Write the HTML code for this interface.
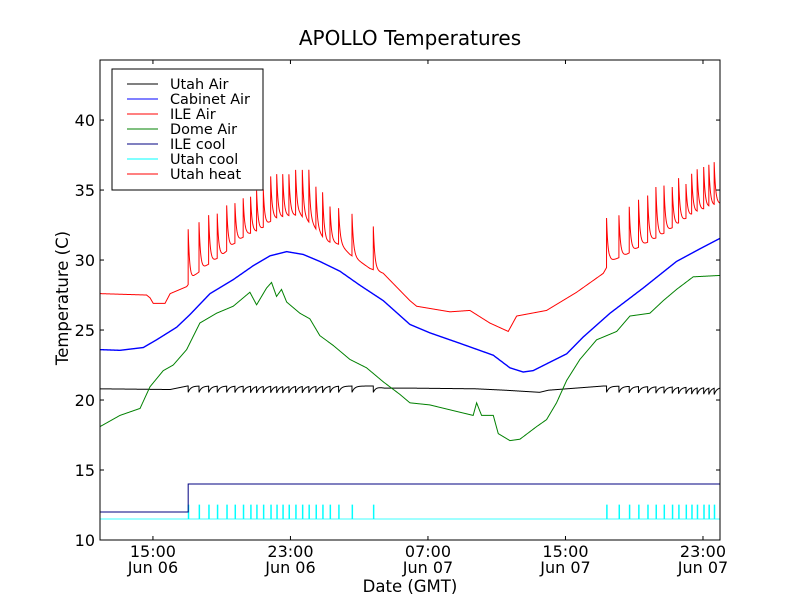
<!DOCTYPE html>
<html><head><meta charset="utf-8"><style>
body{margin:0;background:#fff}
svg text{font-family:"DejaVu Sans","Liberation Sans",sans-serif;fill:#000}
</style></head><body>
<svg id="chart" width="800" height="600" viewBox="0 0 800 600">
<rect width="800" height="600" fill="#fff"/>
<text x="410" y="45" font-size="20" text-anchor="middle">APOLLO Temperatures</text>
<g id="plot"></g>
<g id="axes"></g>
<text x="410" y="592" font-size="16.5" text-anchor="middle">Date (GMT)</text>
<text transform="translate(68,298) rotate(-90)" font-size="16.5" text-anchor="middle">Temperature (C)</text>
<g>
<rect x="112" y="69" width="151" height="121" fill="#fff" stroke="#000" stroke-width="1"/>
<g font-size="14.4">
<line x1="127" y1="84" x2="158" y2="84" stroke="#000"/><text x="170" y="89">Utah Air</text>
<line x1="127" y1="99" x2="158" y2="99" stroke="#00f"/><text x="170" y="104">Cabinet Air</text>
<line x1="127" y1="114" x2="158" y2="114" stroke="#f00"/><text x="170" y="119">ILE Air</text>
<line x1="127" y1="129" x2="158" y2="129" stroke="#008000"/><text x="170" y="134">Dome Air</text>
<line x1="127" y1="144" x2="158" y2="144" stroke="#000080"/><text x="170" y="149">ILE cool</text>
<line x1="127" y1="159" x2="158" y2="159" stroke="#0ff"/><text x="170" y="164">Utah cool</text>
<line x1="127" y1="174" x2="158" y2="174" stroke="#f00"/><text x="170" y="179">Utah heat</text>
</g></g>
</svg>
<script>
// hours since 00:00 Jun 06
const xTickHours = [15, 23, 31, 39, 47];
const xTickTimes = ["15:00", "23:00", "07:00", "15:00", "23:00"];
const xTickDays = ["Jun 06", "Jun 06", "Jun 07", "Jun 07", "Jun 07"];
const yTicks = [10, 15, 20, 25, 30, 35, 40];

const cabinetT = [11.92,13.08,14.44,15.21,16.38,17.15,18.32,19.67,20.84,21.81,22.78,23.74,24.71,25.88,27.04,28.4,29.95,31.11,32.86,34.8,35.77,36.54,37.12,38.09,39.07,40.03,41.59,43.52,45.46,46.82,47.99];
const cabinetV = [23.6,23.55,23.75,24.3,25.2,26.1,27.6,28.6,29.6,30.3,30.6,30.4,29.9,29.2,28.2,27.1,25.4,24.8,24.05,23.2,22.3,22.0,22.1,22.7,23.3,24.5,26.2,28.0,29.9,30.8,31.55];

const domeT = [11.92,13.08,14.25,14.83,15.6,16.18,16.96,17.73,18.7,19.67,20.64,21.03,21.61,21.9,22.19,22.48,22.78,23.55,24.13,24.71,25.49,26.46,27.43,28.4,29.37,29.95,31.11,32.28,33.63,33.83,34.12,34.8,35.09,35.77,36.35,37.32,37.9,38.48,39.07,39.84,40.81,41.98,42.75,43.91,44.69,45.46,46.43,47.99];
const domeV = [18.1,18.9,19.4,20.95,22.1,22.5,23.6,25.5,26.2,26.7,27.7,26.8,28.0,28.4,27.4,27.9,27.0,26.2,25.8,24.6,23.9,22.9,22.3,21.3,20.4,19.8,19.65,19.3,18.9,19.8,18.9,18.9,17.6,17.1,17.2,18.1,18.6,19.8,21.4,22.9,24.3,24.9,26.0,26.2,27.1,27.9,28.8,28.9];

const ileBaseT = [11.92,14.63,14.83,15.02,15.7,16.0,16.96,17.44,18.12,19.09,19.67,20.45,21.22,22.0,22.78,23.55,24.33,25.1,25.88,26.46,27.62,28.4,29.95,30.34,32.28,33.44,34.6,35.67,36.16,37.9,39.65,41.2,41.59,42.56,43.52,44.49,45.46,46.43,47.4,47.99];
const ileBaseV = [27.6,27.5,27.3,26.9,26.9,27.6,28.1,28.9,29.6,30.4,31.1,31.8,32.1,32.9,33.1,33.2,32.4,31.3,31.1,30.4,29.4,29.05,27.1,26.7,26.3,26.4,25.5,24.9,26.0,26.4,27.7,29.05,29.9,30.4,31.1,31.7,32.5,33.3,33.8,34.0];

const heatT = [17.05,17.68,18.24,18.74,19.29,19.77,20.25,20.68,21.03,21.42,21.85,22.2,22.55,22.91,23.3,23.69,24.07,24.48,24.87,25.3,25.8,26.58,27.82,41.39,42.11,42.71,43.25,43.78,44.26,44.73,45.21,45.58,46.01,46.34,46.66,47.04,47.34,47.65];
const heatPeak = [32.2,32.7,33.2,33.3,33.9,34.05,34.4,34.5,34.9,35.0,35.95,36.07,36.07,36.07,36.4,36.4,36.4,35.2,34.8,33.8,33.7,33.3,32.4,33.0,33.2,33.8,34.3,34.6,35.2,35.3,35.2,35.8,35.4,36.1,36.4,36.6,36.7,36.9];

const utahAirT = [11.92,16.0,17.0,27.8,28.5,30.0,33.8,35.5,37.5,38.0,41.2,47.99];
const utahAirV = [20.8,20.75,21.0,21.0,20.85,20.85,20.8,20.7,20.55,20.7,21.0,20.9];
const utahAirDip = [0.45];

const ileCoolT = [11.92,17.05,47.99];
const ileCoolV = [12,14,14];
const utahCoolBase = [11.5];
const utahCoolOn = [12.5];

const X0=100,X1=720,Y0=540,Y1=60,TMIN=11.92,TMAX=47.99,VMIN=10,VMAX=44.29;
const xs=t=>X0+(t-TMIN)/(TMAX-TMIN)*(X1-X0);
const ys=v=>Y0-(v-VMIN)/(VMAX-VMIN)*(Y0-Y1);
function interp(T,V,t){if(t<=T[0])return V[0];for(let i=1;i<T.length;i++){if(t<=T[i]){const f=(t-T[i-1])/(T[i]-T[i-1]);return V[i-1]+f*(V[i]-V[i-1]);}}return V[V.length-1];}
const NS="http://www.w3.org/2000/svg";
const plot=document.getElementById('plot');
const axes=document.getElementById('axes');
function path(d,color,w,name){const p=document.createElementNS(NS,'path');p.setAttribute('d',d);p.setAttribute('fill','none');p.setAttribute('stroke',color);p.setAttribute('stroke-width',w);


plot.appendChild(p);}
const grid=[];for(let t=TMIN;t<=TMAX;t+=0.01)grid.push(t);
heatT.forEach(t=>{grid.push(t-0.001);grid.push(t);});grid.sort((a,b)=>a-b);
function line(fn){return grid.map((t,i)=>(i?'L':'M')+xs(t).toFixed(2)+','+ys(fn(t)).toFixed(2)).join('');}
let dc='M'+xs(TMIN)+','+ys(utahCoolBase[0]);
heatT.forEach(t=>{dc+='L'+xs(t)+','+ys(utahCoolBase[0])+'L'+xs(t)+','+ys(utahCoolOn[0])+'L'+xs(t+0.04)+','+ys(utahCoolOn[0])+'L'+xs(t+0.04)+','+ys(utahCoolBase[0]);});
dc+='L'+xs(TMAX)+','+ys(utahCoolBase[0]);
path(dc,'#0ff',0.8,'utah-cool-line');
let di='M'+xs(ileCoolT[0])+','+ys(ileCoolV[0]);
for(let i=1;i<ileCoolT.length;i++){di+='L'+xs(ileCoolT[i])+','+ys(ileCoolV[i-1])+'L'+xs(ileCoolT[i])+','+ys(ileCoolV[i]);}
path(di,'#000080',1,'ile-cool-line');
path(line(t=>{let v=interp(utahAirT,utahAirV,t);heatT.forEach(s=>{if(t>=s)v-=utahAirDip[0]*Math.exp(-(t-s)/0.15);});return v;}),'#000',1,'utah-air-line');
path(line(t=>interp(domeT,domeV,t)),'#008000',1,'dome-air-line');
path(line(t=>interp(cabinetT,cabinetV,t)),'#00f',1.4,'cabinet-air-line');
path(line(t=>{const b=interp(ileBaseT,ileBaseV,t);let v=b;heatT.forEach((s,i)=>{if(t>=s){v+=(heatPeak[i]-interp(ileBaseT,ileBaseV,s))*Math.exp(-(t-s)/0.09);}});return v;}),'#f00',1,'ile-air-line');
const fr=document.createElementNS(NS,'rect');fr.setAttribute('x',X0);fr.setAttribute('y',Y1);fr.setAttribute('width',X1-X0);fr.setAttribute('height',Y0-Y1);fr.setAttribute('fill','none');fr.setAttribute('stroke','#000');


axes.appendChild(fr);
function ln(x1,y1,x2,y2){const l=document.createElementNS(NS,'line');l.setAttribute('x1',x1);l.setAttribute('y1',y1);l.setAttribute('x2',x2);l.setAttribute('y2',y2);l.setAttribute('stroke','#000');


axes.appendChild(l);}
function tx(x,y,s,anchor,name){const e=document.createElementNS(NS,'text');e.setAttribute('x',x);e.setAttribute('y',y);e.setAttribute('font-size','16');e.setAttribute('text-anchor',anchor);e.textContent=s;


axes.appendChild(e);}
yTicks.forEach(v=>{const y=ys(v);ln(X0,y,X0+4,y);ln(X1,y,X1-4,y);tx(95,y+6,String(v),'end','y-tick-label');});
xTickHours.forEach((h,i)=>{const x=xs(h);ln(x,Y0,x,Y0-4);ln(x,Y1,x,Y1+4);tx(x,557,xTickTimes[i],'middle','x-tick-time');tx(x,573,xTickDays[i],'middle','x-tick-day');});
</script>
</body></html>
